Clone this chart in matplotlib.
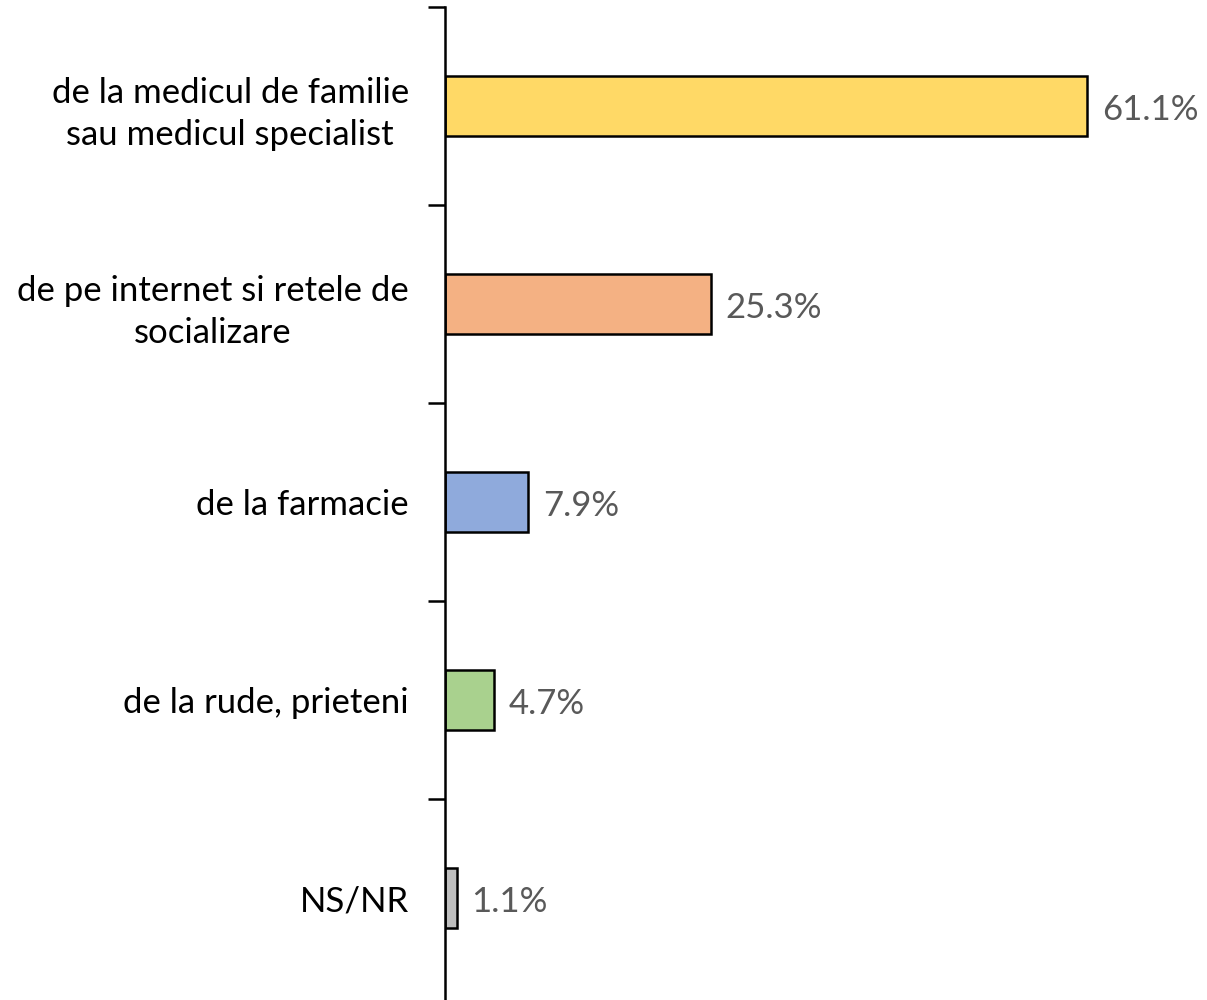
import matplotlib
matplotlib.use("Agg")
import matplotlib.pyplot as plt

categories = ["de la medicul de familie\nsau medicul specialist",
              "de pe internet si retele de\nsocializare",
              "de la farmacie",
              "de la rude, prieteni",
              "NS/NR"]
values = [61.1, 25.3, 7.9, 4.7, 1.1]
colors = ["#FFD966", "#F4B183", "#8FAADC", "#A9D18E", "#BFBFBF"]

plt.rcParams['font.family'] = ['Lato', 'DejaVu Sans']

fig = plt.figure(figsize=(12.07, 10), dpi=100)
ax = fig.add_axes([445 / 1207, 0.0, 736 / 1207, 0.993])

pos = list(range(len(categories)))
ax.barh(pos, values, height=0.303, color=colors, edgecolor="black", linewidth=1.8)
for p, v in zip(pos, values):
    ax.text(v + 1.4, p + 0.02, f"{v:.1f}%", va="center", ha="left", fontsize=25, color="#595959")

ax.set_ylim(len(categories) - 0.5 + 0.015, -0.5)
ax.set_xlim(0, 70)
ax.set_yticks([i - 0.5 for i in range(len(categories))])
ax.set_yticklabels([])
ax.set_yticks(pos, minor=True)
ax.set_yticklabels(categories, minor=True, fontsize=25, ha="right",
                   multialignment="center", linespacing=1.4)
ax.tick_params(axis="y", which="major", length=12, width=1.8)
ax.tick_params(axis="y", which="minor", length=0, pad=26)
ax.set_xticks([])
for s in ["top", "right", "bottom"]:
    ax.spines[s].set_visible(False)
ax.spines["left"].set_linewidth(1.8)

fig.savefig("out.png", dpi=100)
